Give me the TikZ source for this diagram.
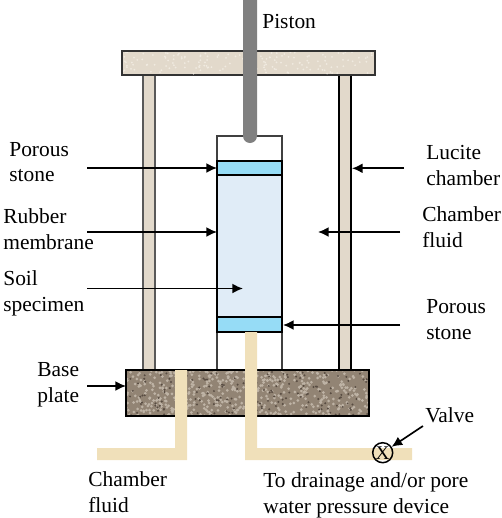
\documentclass[tikz,border=0pt]{standalone}
\usepackage{fontspec}
\setmainfont{Liberation Serif}
\usetikzlibrary{arrows.meta}
\definecolor{plateTan}{RGB}{226, 217, 203}
\definecolor{plateDot}{RGB}{240, 234, 224}
\definecolor{baseMid}{RGB}{146, 132, 116}
\definecolor{baseDark}{RGB}{88, 76, 66}
\definecolor{baseLight}{RGB}{190, 179, 165}
\definecolor{pipeTan}{RGB}{240, 224, 186}
\definecolor{stoneBlue}{RGB}{150, 220, 246}
\definecolor{soilBlue}{RGB}{224, 236, 247}
\definecolor{pistonGray}{RGB}{128, 128, 128}
\tikzset{
  lab/.style={anchor=base west, inner sep=0pt, align=left, font=\fontsize{12.2}{14.5}\selectfont},
  part/.style={draw=black, line width=0.85pt},
  pointer/.style={-{Latex[length=6pt, width=5.6pt]}, line width=0.95pt, black},
}
\begin{document}
\begin{tikzpicture}[x=0.02cm, y=-0.02cm]
  \useasboundingbox (0,0) rectangle (502,518);

  % posts and top plate
  \draw[part, draw=black!65, fill=plateTan] (143,75) rectangle (155,370);
  \draw[part, fill=plateTan] (339,75) rectangle (351,370);
  \draw[part, draw=black!80, fill=plateTan] (122,51) rectangle (375,75);
  \begin{scope}
    \clip (123,52) rectangle (374,74);
    \pgfmathsetseed{11}
    \foreach \i in {1,...,160} {
      \pgfmathsetmacro{\gx}{123+251*rnd}
      \pgfmathsetmacro{\gy}{52+22*rnd}
      \fill[plateDot] (\gx,\gy) circle (1);
    }
  \end{scope}

  % cell and specimen
  \draw[part, draw=black!75] (217,370) -- (217,136) -- (282,136) -- (282,370);
  \draw[part, fill=soilBlue] (217,175) rectangle (282,317);
  \draw[part, fill=stoneBlue] (217,161) rectangle (282,175);
  \draw[part, fill=stoneBlue] (217,317) rectangle (282,332);

  % piston
  \fill[pistonGray] (243,0) -- (243,136) arc (180:0:7) -- (257,0) -- cycle;

  % base plate
  \fill[baseMid] (126,370) rectangle (369,416);
  \begin{scope}
    \clip (126,370) rectangle (369,416);
    \pgfmathsetseed{7}
    \foreach \i in {1,...,520} {
      \pgfmathsetmacro{\gx}{126+243*rnd}
      \pgfmathsetmacro{\gy}{370+46*rnd}
      \fill[baseLight] (\gx,\gy) circle (1.5);
    }
    \foreach \i in {1,...,170} {
      \pgfmathsetmacro{\gx}{126+243*rnd}
      \pgfmathsetmacro{\gy}{370+46*rnd}
      \fill[baseDark] (\gx,\gy) circle (1.1);
    }
  \end{scope}
  \draw[part, line width=1pt] (126,370) rectangle (369,416);

  % pipes
  \fill[pipeTan] (175,370) -- (187,370) -- (187,460) -- (97,460) -- (97,448) -- (175,448) -- cycle;
  \fill[pipeTan] (245,332) -- (257,332) -- (257,448) -- (412,448) -- (412,460) -- (245,460) -- cycle;
  \node[draw=black, line width=0.85pt, circle, minimum size=0.4cm, inner sep=0pt, font=\fontsize{11}{12}\selectfont] (valve) at (382.7,452.7) {X};

  % arrow ends
  \coordinate (stoneTopTail) at (87,168);
  \coordinate (stoneTopTip) at (217,168);
  \coordinate (membraneTail) at (87,232);
  \coordinate (membraneTip) at (217,232);
  \coordinate (soilTail) at (87,288.5);
  \coordinate (soilTip) at (243,288.5);
  \coordinate (baseTail) at (87,386);
  \coordinate (baseTip) at (126,386);
  \coordinate (luciteTail) at (404,168.3);
  \coordinate (luciteTip) at (352,168.3);
  \coordinate (fluidTail) at (400,232);
  \coordinate (fluidTip) at (318,232);
  \coordinate (stoneLowTail) at (400,325);
  \coordinate (stoneLowTip) at (283,325);
  \coordinate (valveTail) at (423,426);

  \draw[pointer] (stoneTopTail) -- (stoneTopTip);
  \draw[pointer] (membraneTail) -- (membraneTip);
  \draw[pointer] (soilTail) -- (soilTip);
  \draw[pointer] (baseTail) -- (baseTip);
  \draw[pointer] (luciteTail) -- (luciteTip);
  \draw[pointer] (fluidTail) -- (fluidTip);
  \draw[pointer] (stoneLowTail) -- (stoneLowTip);
  \draw[pointer] (valveTail) -- (valve);

  % labels
  \node[lab] (piston) at (262,28) {Piston};
  \node[lab] (stoneTop) at (9,181.5) {Porous\\stone};
  \node[lab] (membrane) at (3,249) {Rubber\\membrane};
  \node[lab] (soil) at (3,311) {Soil\\specimen};
  \node[lab] (base) at (37,402) {Base\\plate};
  \node[lab] (lucite) at (426,185) {Lucite\\chamber};
  \node[lab] (fluid) at (422,247) {Chamber\\fluid};
  \node[lab] (stoneLow) at (426,339) {Porous\\stone};
  \node[lab] (valvelab) at (425,422) {Valve};
  \node[lab] (fluidIn) at (88,512) {Chamber\\fluid};
  \node[lab] (drain) at (263,513) {To drainage and/or pore\\water pressure device};
\end{tikzpicture}
\end{document}
